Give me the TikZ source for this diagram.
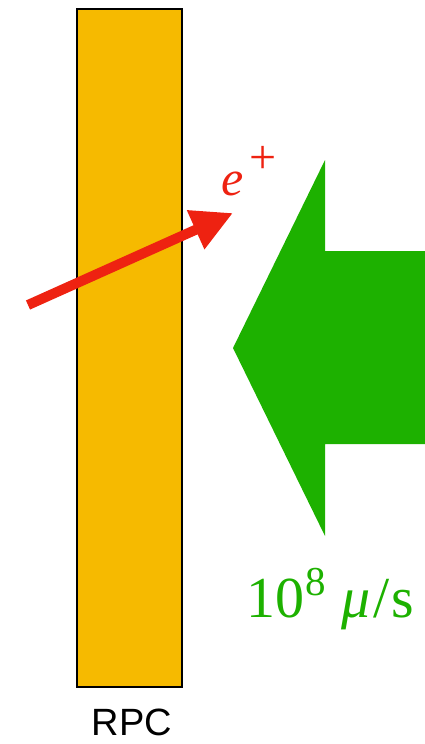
\documentclass[tikz,border=0pt]{standalone}
\usepackage{fontspec}
\setmainfont{Liberation Serif}
\setsansfont{Liberation Sans}
\usepackage{xcolor}
\usetikzlibrary{arrows.meta, positioning}
\definecolor{rpccol}{HTML}{F6BA00}
\definecolor{poscol}{HTML}{EE2211}
\definecolor{beamcol}{HTML}{1DB100}
\newcommand{\supr}[3]{\raisebox{#1}{\fontsize{#2}{#2}\selectfont #3}}

\begin{document}
\begin{tikzpicture}[
    x=1pt, y=-1pt,
    rpcbox/.style={rectangle, draw=black, line width=2pt, fill=rpccol,
                   minimum width=105pt, minimum height=678pt, inner sep=0pt},
    rpclabel/.style={font=\sffamily\fontsize{38}{40}\selectfont, anchor=base},
    posarr/.style={-{Triangle[length=41pt, width=40pt]}, line width=10pt, draw=poscol},
    poslabel/.style={font=\fontsize{50}{54}\selectfont, text=poscol, anchor=base west,
                     inner sep=0pt},
    beam/.style={fill=beamcol, draw=none},
    beamlabel/.style={font=\fontsize{58}{60}\selectfont, text=beamcol, anchor=base west,
                      inner sep=0pt},
]
\useasboundingbox (0,0) rectangle (425,744);

% RPC plate
\node[rpcbox] (rpc) at (129.5,348) {};
\node[rpclabel] (rpcname) at (132,735) {RPC};

% Muon beam
\path[beam] (425,251) -- (325,251) -- (325,160) -- (233,348)
    -- (325,536) -- (325,444) -- (425,444) -- cycle;
\node[beamlabel] (rate) at (246,617)
    {10\hspace{1pt}\supr{22pt}{41}{8}\hspace{16pt}\textit{μ}\hspace{3pt}/\hspace{2pt}s};

% Positron track
\coordinate (estart) at (28,305);
\coordinate (etip) at (233,213);
\draw[posarr] (estart) -- (etip);
\node[poslabel] (epos) at (221,195)
    {\textit{e}\hspace{6pt}\supr{22pt}{48}{+}};

\end{tikzpicture}
\end{document}
